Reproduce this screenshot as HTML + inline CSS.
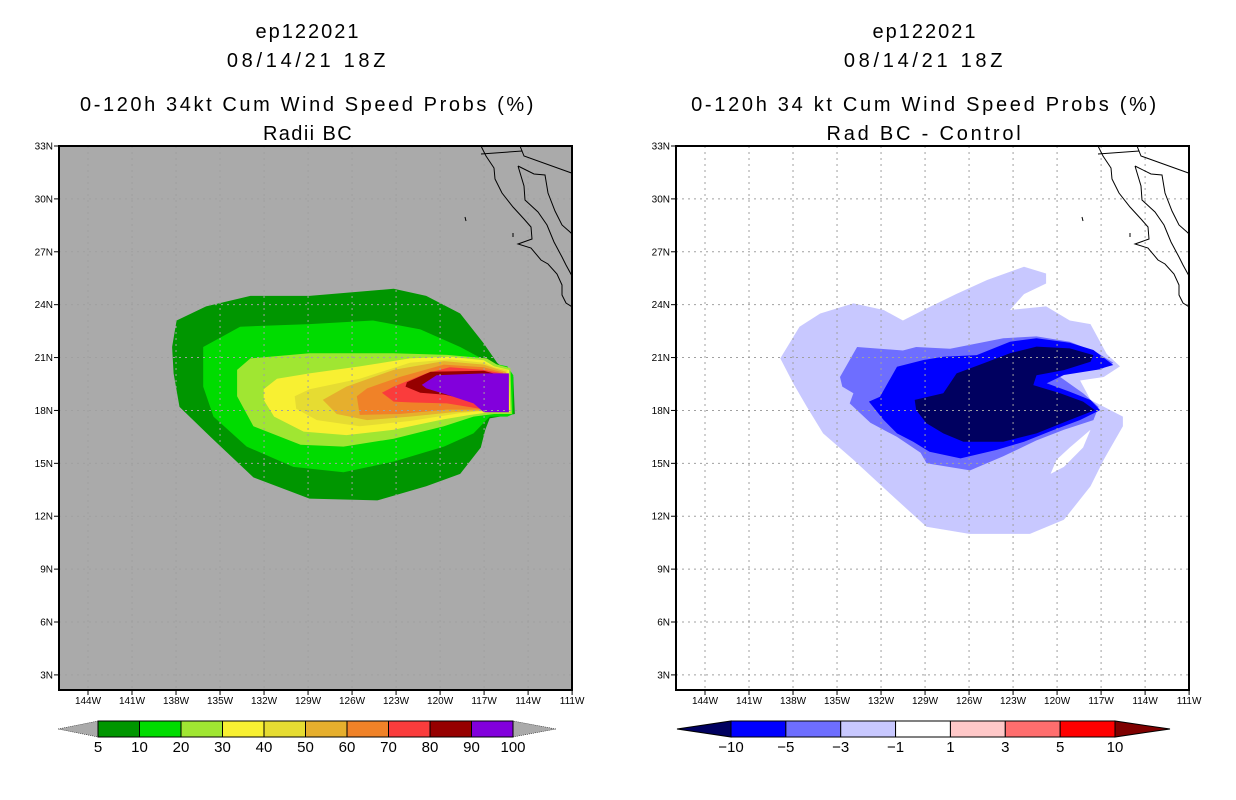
<!DOCTYPE html>
<html><head><meta charset="utf-8"><style>
body{margin:0;background:#fff;width:1236px;height:800px;overflow:hidden}
svg{display:block}
text{font-family:"Liberation Sans",sans-serif}
</style></head><body>
<svg id="chart" width="1236" height="800"></svg>
<script>
const NS="http://www.w3.org/2000/svg";
const latTicks=[33,30,27,24,21,18,15,12,9,6,3];
const lonTicks=[144,141,138,135,132,129,126,123,120,117,114,111];
const leftLevels=["5","10","20","30","40","50","60","70","80","90","100"];
const leftColors=["#009600","#00dc00","#a0e632","#f8f032","#e6dc32","#e6af2d","#f08228","#fa3c3c","#960000","#8200dc"];
const rightLevels=["-10","-5","-3","-1","1","3","5","10"];
const rightColors=["#000060","#0000ff","#6e6eff","#c8c8ff","#ffffff","#ffc8c8","#ff6e6e","#ff0000","#7f0000"];
const probs5=[[137.8,23.1],[135.8,23.9],[132.8,24.5],[128.8,24.5],[123.1,24.9],[120.9,24.5],[118.6,23.5],[117.0,21.8],[116.1,20.7],[115.0,19.9],[114.9,17.8],[116.6,17.55],[116.9,16.9],[117.2,15.9],[118.6,14.4],[120.9,13.7],[124.2,12.9],[128.8,13.0],[132.6,14.2],[135.5,16.5],[137.6,18.2],[138.0,20.1],[138.1,21.6]];
const probs10=[[136.0,21.6],[133.5,22.75],[128.8,22.9],[124.5,23.1],[121.3,22.6],[118.6,21.6],[116.6,20.7],[115.4,20.5],[115.0,20.0],[115.0,17.8],[115.4,17.65],[116.6,17.65],[117.7,16.7],[119.7,15.95],[123.1,15.1],[126.5,14.5],[129.9,14.8],[133.05,15.95],[135.3,17.65],[136.0,19.35]];
const probs20=[[133.7,20.3],[132.8,20.95],[128.8,21.25],[123.1,21.25],[119.5,21.15],[116.8,20.95],[116.1,20.6],[115.2,20.4],[115.1,17.8],[116.3,17.8],[117.7,17.65],[119.7,17.1],[123.1,16.4],[126.5,15.95],[129.4,16.05],[132.6,17.1],[133.7,18.8]];
const probs30=[[131.9,19.2],[131.0,19.8],[128.8,20.1],[125.4,20.5],[122.0,20.95],[119.3,21.05],[117.0,20.85],[116.3,20.5],[115.3,20.3],[115.2,17.9],[116.6,17.9],[117.9,17.75],[119.7,17.5],[123.1,16.9],[126.3,16.6],[129.2,16.8],[131.2,17.65],[131.9,18.6]];
const probs40=[[129.8,18.8],[128.8,19.2],[125.4,19.8],[122.0,20.7],[119.3,20.9],[117.0,20.7],[116.3,20.45],[115.4,20.3],[115.3,17.9],[116.6,18.0],[118.6,17.85],[122.0,17.4],[125.4,17.1],[128.3,17.45],[129.7,18.1]];
const probs50=[[127.9,18.6],[126.3,19.35],[123.1,20.3],[119.7,20.8],[117.0,20.6],[116.3,20.4],[115.5,20.2],[115.4,17.95],[116.8,18.0],[119.1,17.9],[122.0,17.65],[124.9,17.45],[126.96,17.8]];
const probs60=[[125.6,18.8],[124.9,19.25],[122.7,19.9],[119.7,20.6],[117.0,20.45],[115.7,20.15],[115.6,18.0],[117.0,18.05],[119.5,18.05],[122.7,17.8],[125.4,17.75]];
const probs70=[[123.9,19.0],[123.1,19.35],[120.9,20.1],[119.3,20.45],[117.0,20.3],[115.8,20.1],[115.7,18.0],[117.25,18.1],[119.5,18.4],[121.8,18.45],[123.1,18.5]];
const probs80=[[122.3,19.35],[122.2,19.6],[120.6,20.2],[117.0,20.25],[115.9,20.0],[115.8,18.05],[117.25,18.2],[117.9,18.6],[119.7,18.9],[121.3,19.0]];
const probs90=[[121.2,19.45],[120.2,20.0],[117.0,20.1],[115.3,20.1],[115.3,17.9],[117.0,17.9],[117.7,18.4],[119.5,18.9],[120.9,19.25]];
const diff1=[[138.7,20.95],[137.4,22.75],[136.0,23.5],[133.75,24.07],[131.7,23.7],[130.4,23.1],[129.0,23.7],[126.8,24.6],[124.7,25.4],[122.2,26.15],[120.7,25.77],[120.7,25.2],[122.2,24.6],[123.15,23.7],[120.7,23.9],[119.1,23.1],[117.7,22.9],[116.6,21.2],[115.7,20.5],[116.8,19.9],[118.4,19.7],[117.7,18.6],[115.5,17.65],[115.5,17.1],[116.8,15.2],[117.7,13.7],[119.5,11.8],[121.8,11.0],[125.9,11.0],[128.8,11.4],[131.3,13.3],[133.75,15.2],[135.8,16.7],[136.9,18.2],[137.8,19.5]];
const diffHole=[[117.7,16.9],[118.2,15.9],[119.5,14.8],[120.4,14.4],[120.0,15.2],[119.1,15.9]];
const diff3=[[134.66,19.9],[133.5,21.6],[131.95,21.5],[130.4,21.4],[129.5,21.6],[127.2,21.5],[125.4,21.8],[123.6,22.1],[121.35,22.2],[119.1,21.9],[117.3,21.3],[116.15,20.7],[117.05,20.3],[119.1,20.3],[119.75,19.9],[118.2,18.97],[117.15,18.2],[117.5,17.45],[119.5,16.9],[121.35,16.3],[123.6,15.4],[125.85,14.6],[128.8,15.0],[129.2,15.6],[130.8,16.5],[132.6,17.3],[134.0,18.4],[133.75,18.97],[134.5,19.35]];
const diff5=[[132.7,18.5],[131.95,18.78],[130.8,20.48],[129.0,20.86],[127.66,21.05],[125.4,21.14],[123.15,21.9],[121.35,22.09],[119.1,21.84],[117.5,21.43],[116.15,20.58],[117.3,20.3],[119.5,20.01],[120.66,19.54],[119.1,19.06],[117.7,18.59],[117.05,18.02],[118.4,17.46],[120.2,16.89],[122.2,16.23],[124.05,15.76],[126.5,15.28],[128.6,15.66],[129.7,16.23],[130.8,16.7],[131.7,17.46]];
const diff10=[[129.6,18.6],[127.66,18.97],[126.76,20.1],[124.95,20.67],[123.15,21.24],[121.35,21.62],[119.1,21.52],[117.5,21.14],[117.7,20.76],[119.5,20.29],[121.35,20.0],[121.57,19.44],[119.75,18.97],[118.2,18.5],[117.4,18.02],[119.1,17.46],[121.35,16.7],[123.6,16.23],[126.3,16.23],[127.66,16.7],[128.8,17.27],[129.5,18.02]];

const svg=document.getElementById('chart');
function mk(tag,attrs,parent){const e=document.createElementNS(NS,tag);for(const k in attrs)e.setAttribute(k,attrs[k]);(parent||svg).appendChild(e);return e;}
const X0=59,X1=572,Y0=146,Y1=690;
function xs(lonW,off){return off+85+(144-lonW)*14.77;}
function xt(lonW,off){return off+88+(144-lonW)*14.67;}
function ys(lat){return Y0+(33-lat)*17.63;}
function poly(arr,off,fill,name,g){const p=mk('polygon',{points:arr.map(d=>xs(d[0],off).toFixed(1)+','+ys(d[1]).toFixed(1)).join(' '),fill:fill},g);

}
const coast="M481,146 L486,156 L494,168 L495,179 L502,193 L513,207 L524,219 L531,227 L532,239 L518,244 L531,248 L541,260 L548,264 L557,274 L562,285 L562,295 L566,303 L577,310 M518,166 L524,186 L525,200 L538,212 L547,225 L554,242 L562,257 L566,265 L577,285 M518,166 L534,174 L545,175 L548,193 L555,211 L562,225 L570,232 L577,239 M481,154 L522,151 L524,156 L577,175 M520,146 L522,151 M465,217 L466,221 M513,233 L513,237";

function panel(off,titles,isLeft){
  const g=mk('g',{});
  
  
  const cx=off+308;
  titles.forEach((t,i)=>{
    const e=mk('text',{x:cx,y:t[1],'text-anchor':'middle','font-size':20,'letter-spacing':t[2],fill:'#000'},g);e.textContent=t[0];
    
    
  });
  const cid='clip'+off;
  const cp=mk('clipPath',{id:cid},g);mk('rect',{x:off+X0,y:Y0,width:X1-X0,height:Y1-Y0},cp);
  const bg=mk('rect',{x:off+X0,y:Y0,width:X1-X0,height:Y1-Y0,fill:isLeft?'#aaaaaa':'#ffffff'},g);
  
  
  const cg=mk('g',{'clip-path':'url(#'+cid+')'},g);
  if(isLeft){
    [probs5,probs10,probs20,probs30,probs40,probs50,probs60,probs70,probs80,probs90].forEach((a,i)=>poly(a,off,leftColors[i],'contour-'+leftLevels[i],cg));
  }else{
    poly(diff1,off,rightColors[3],'contour-minus1',cg);
    poly(diffHole,off,'#ffffff','contour-hole',cg);
    poly(diff3,off,rightColors[2],'contour-minus3',cg);
    poly(diff5,off,rightColors[1],'contour-minus5',cg);
    poly(diff10,off,rightColors[0],'contour-minus10',cg);
  }
  lonTicks.forEach(l=>{const x=xt(l,off);const gl=mk('line',{x1:x,x2:x,y1:Y0,y2:Y1,stroke:'#a0a0a0','stroke-width':1,'stroke-dasharray':'2,4'},cg);
    
    });
  latTicks.forEach(l=>{const y=ys(l);const gl=mk('line',{x1:off+X0,x2:off+X1,y1:y,y2:y,stroke:'#a0a0a0','stroke-width':1,'stroke-dasharray':'2,4'},cg);
    
    });
  const cl=mk('path',{d:coast,transform:'translate('+off+',0)',fill:'none',stroke:'#000','stroke-width':1},cg);
  
  
  const fr=mk('rect',{x:off+X0,y:Y0,width:X1-X0,height:Y1-Y0,fill:'none',stroke:'#000','stroke-width':2},g);
  
  
  latTicks.forEach(l=>{const y=ys(l);mk('line',{x1:off+X0-5,x2:off+X0,y1:y,y2:y,stroke:'#000'},g);
    const t=mk('text',{x:off+X0-6,y:y+3.5,'text-anchor':'end','font-size':10},g);t.textContent=l+'N';
    
    });
  lonTicks.forEach(l=>{const x=xt(l,off);mk('line',{x1:x,x2:x,y1:Y1,y2:Y1+5,stroke:'#000'},g);
    const t=mk('text',{x:x,y:Y1+14,'text-anchor':'middle','font-size':10},g);t.textContent=l+'W';
    
    });
  const cb=mk('g',{},g);
  
  
  const by0=721,by1=737,bm=729;
  if(isLeft){
    const L=off+98,R=off+513,n=leftColors.length,w=(R-L)/n;
    mk('polygon',{points:`${off+58},${bm} ${L},${by0} ${L},${by1}`,fill:'#aaaaaa',stroke:'#000','stroke-width':0.5,'stroke-dasharray':'1,1'},cb);
    mk('polygon',{points:`${off+556},${bm} ${R},${by0} ${R},${by1}`,fill:'#aaaaaa',stroke:'#000','stroke-width':0.5,'stroke-dasharray':'1,1'},cb);
    leftColors.forEach((c,i)=>{const r=mk('rect',{x:L+i*w,y:by0,width:w,height:by1-by0,fill:c,stroke:'#000','stroke-width':1},cb);
      
      });
    leftLevels.forEach((s,i)=>{const t=mk('text',{x:L+i*w,y:752,'text-anchor':'middle','font-size':15},cb);t.textContent=s;
      
      });
  }else{
    const L=off+114,R=off+498,n=rightLevels.length-1,w=(R-L)/n;
    mk('polygon',{points:`${off+60},${bm} ${L},${by0} ${L},${by1}`,fill:rightColors[0],stroke:'#000','stroke-width':1},cb);
    mk('polygon',{points:`${off+553},${bm} ${R},${by0} ${R},${by1}`,fill:rightColors[8],stroke:'#000','stroke-width':1},cb);
    for(let i=0;i<n;i++){const r=mk('rect',{x:L+i*w,y:by0,width:w,height:by1-by0,fill:rightColors[i+1],stroke:'#000','stroke-width':1},cb);
      
      }
    rightLevels.forEach((s,i)=>{const t=mk('text',{x:L+i*w,y:752,'text-anchor':'middle','font-size':15},cb);t.textContent=s.replace('-','\u2212');
      
      });
  }
}
panel(0,[["ep122021",38,2],["08/14/21 18Z",67,3.7],["0-120h 34kt Cum Wind Speed Probs (%)",111,2.6],["Radii BC",140,1.4]],true);
panel(617,[["ep122021",38,2],["08/14/21 18Z",67,3.7],["0-120h 34 kt Cum Wind Speed Probs (%)",111,2.7],["Rad BC - Control",140,2.8]],false);
</script>
</body></html>
